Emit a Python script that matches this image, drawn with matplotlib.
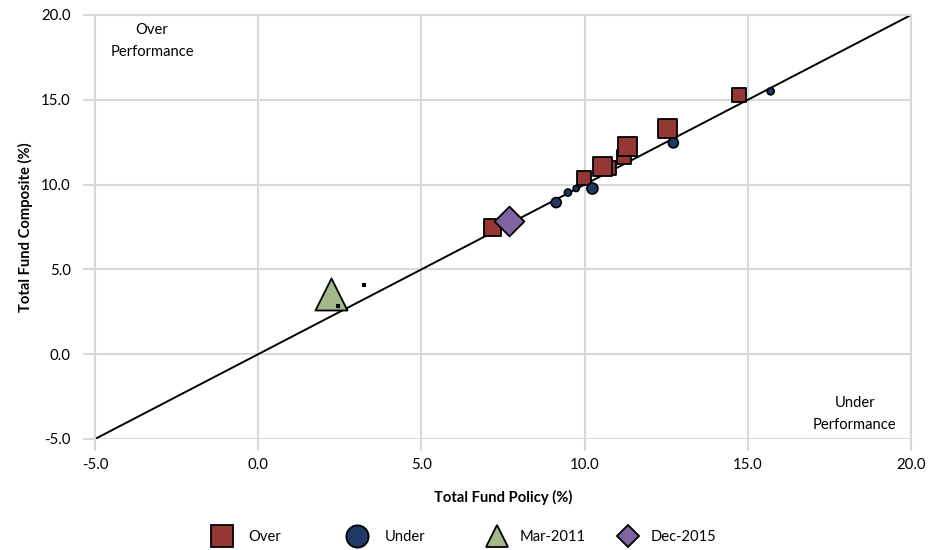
import matplotlib
matplotlib.use("Agg")
import matplotlib.pyplot as plt

plt.rcParams['font.family'] = ['Lato', 'DejaVu Sans']

# ---- data ----
over_x = [11.21, 10.75, 9.98, 7.17, 10.54, 11.31, 12.54, 14.73]
over_y = [11.60, 10.95, 10.36, 7.45, 11.08, 12.22, 13.31, 15.27]
over_px = [14, 14, 14, 17, 19, 19, 19, 14]          # marker side in px

tiny_x = [2.41, 3.20]
tiny_y = [2.89, 4.13]

under_x = [15.70, 12.72, 10.24, 9.74, 9.49, 9.13]
under_y = [15.50, 12.46, 9.77, 9.77, 9.53, 8.94]
under_px = [7, 10, 11, 6, 7, 10]

mar2011_x, mar2011_y = [2.24], [3.54]
dec2015_x, dec2015_y = [7.68], [7.86]

diag_x = [-5, 20]
diag_y = [-5, 20]

ticks = [-5, 0, 5, 10, 15, 20]
tick_labels = ["-5.0", "0.0", "5.0", "10.0", "15.0", "20.0"]
legend_labels = ["Over", "Under", "Mar-2011", "Dec-2015"]

# ---- styling ----
RED = "#953735"
NAVY = "#1F3864"
GREEN = "#A3B78A"
PURPLE = "#8064A2"
GRID = "#D9D9D9"
PX = 0.72  # points per pixel at dpi 100
W, H = 942, 550

fig = plt.figure(figsize=(W/100, H/100), dpi=100)
ax = fig.add_axes([95/W, 1-439/H, (911-95)/W, (439-15)/H])

ax.set_xlim(-5, 20)
ax.set_ylim(-5, 20)
ax.set_xticks(ticks)
ax.set_xticklabels(tick_labels)
ax.set_yticks(ticks)
ax.set_yticklabels(tick_labels)
ax.grid(True, color=GRID, linewidth=1.5)
ax.set_axisbelow(True)
for s in ax.spines.values():
    s.set_color(GRID)
    s.set_linewidth(1.5)
ax.spines['bottom'].set_visible(False)
ax.tick_params(axis='both', length=8.5, width=1.5, color=GRID,
               labelsize=10.8, labelcolor='black')
ax.tick_params(axis='x', pad=5)
ax.tick_params(axis='y', pad=9)

ax.plot(diag_x, diag_y, color='black', linewidth=1.4, zorder=2)

ax.scatter(over_x, over_y, marker='s', s=[(p*PX)**2 for p in over_px],
           facecolor=RED, edgecolor='black', linewidth=1.3, zorder=3)
ax.scatter(mar2011_x, mar2011_y, marker='^', s=(32*PX)**2,
           facecolor=GREEN, edgecolor='black', linewidth=1.3, zorder=4)
ax.scatter(tiny_x, tiny_y, marker='s', s=(3*PX)**2,
           facecolor='black', edgecolor='black', linewidth=0.8, zorder=5)
ax.scatter(under_x, under_y, marker='o', s=[(p*PX)**2 for p in under_px],
           facecolor=NAVY, edgecolor='black', linewidth=1.2, zorder=5)
ax.scatter(dec2015_x, dec2015_y, marker='D', s=(21*PX)**2,
           facecolor=PURPLE, edgecolor='black', linewidth=1.3, zorder=6)

ax.text(-3.25, 18.45, "Over\nPerformance", ha='center', va='center',
        fontsize=10.6, linespacing=1.7)
ax.text(18.28, -3.54, "Under\nPerformance", ha='center', va='center',
        fontsize=10.6, linespacing=1.7)

ax.set_xlabel("Total Fund Policy (%)", fontsize=10.6, fontweight='bold', labelpad=13)
ax.set_ylabel("Total Fund Composite (%)", fontsize=10.6, fontweight='bold', labelpad=6)

# ---- legend (Excel-style fixed slots) ----
lax = fig.add_axes([0, 0, 1, 1], zorder=10)
lax.set_xlim(0, W)
lax.set_ylim(H, 0)
lax.axis('off')
slot_marker_x = [222, 357, 497, 628]
slot_text_x = [248, 385, 520, 651]
slot_styles = [
    dict(marker='s', markersize=16, markerfacecolor=RED),
    dict(marker='o', markersize=16, markerfacecolor=NAVY),
    dict(marker='^', markersize=16, markerfacecolor=GREEN),
    dict(marker='D', markersize=11, markerfacecolor=PURPLE),
]
ly = 536
for mx, tx, st, lab in zip(slot_marker_x, slot_text_x, slot_styles, legend_labels):
    lax.plot([mx], [ly], linestyle='none', markeredgecolor='black',
             markeredgewidth=1.3, **st)
    lax.text(tx, ly + 1, lab, ha='left', va='center', fontsize=10.6)

fig.savefig("out.png", dpi=100)
